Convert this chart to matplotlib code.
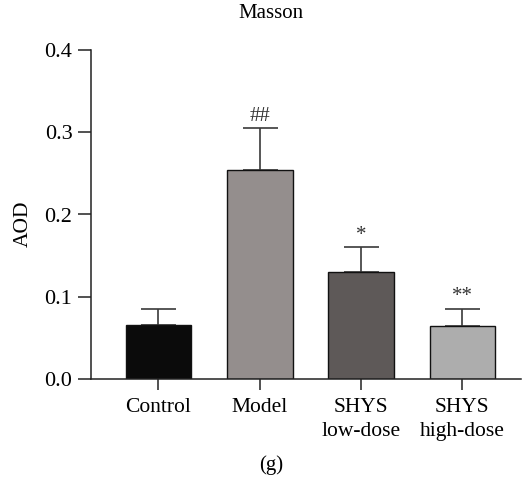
import matplotlib
matplotlib.use("Agg")
import matplotlib.pyplot as plt

categories = ["Control", "Model", "SHYS\nlow-dose", "SHYS\nhigh-dose"]
values = [0.0657, 0.2545, 0.1297, 0.0640]
errors = [0.0200, 0.0502, 0.0308, 0.0215]
marks = ["", "##", "*", "**"]
colors = ["#0b0b0b", "#948e8d", "#5e5958", "#adadad"]
yticks = [0.0, 0.1, 0.2, 0.3, 0.4]

plt.rcParams['font.family'] = ['Liberation Serif', 'DejaVu Serif']

fig = plt.figure(figsize=(5.22, 4.90), dpi=100)
ax = fig.add_axes([91/522, 1-379/490, (521-91)/522, (379-50)/490])

x = list(range(len(categories)))
ax.bar(x, values, width=0.65, color=colors, edgecolor="#111111", linewidth=1.0, zorder=2)
ax.errorbar(x, values, yerr=[[0]*len(values), errors], fmt="none",
            ecolor="#3a3a3a", elinewidth=1.2, capsize=12.6, capthick=1.2, zorder=1)
for xi, v, e, m in zip(x, values, errors, marks):
    if m:
        ax.text(xi, v + e + 0.003, m, ha="center", va="bottom", fontsize=15, color="#333333")

ax.set_xlim(-0.666, 3.578)
ax.set_ylim(0, 0.4)
ax.set_yticks(yticks)
ax.set_yticklabels([f"{t:.1f}" for t in yticks], fontsize=16)
ax.set_xticks(x)
ax.set_xticklabels(categories, fontsize=15.5, linespacing=1.35)
ax.tick_params(axis="x", direction="out", length=8, width=1.1, color="#222222", pad=6)
ax.tick_params(axis="y", direction="out", length=9.4, width=1.1, color="#222222", pad=4)
for s in ["top", "right"]:
    ax.spines[s].set_visible(False)
for s in ["left", "bottom"]:
    ax.spines[s].set_linewidth(1.1)
    ax.spines[s].set_color("#222222")
ax.set_ylabel("AOD", fontsize=15.5)
ax.yaxis.set_label_coords((33-91)/430, (379-224)/329)

fig.text(271/522, 1-14/490, "Masson", ha="center", va="center", fontsize=15)
fig.text(271/522, 1-465/490, "(g)", ha="center", va="center", fontsize=15)

fig.savefig("out.png", dpi=100)
